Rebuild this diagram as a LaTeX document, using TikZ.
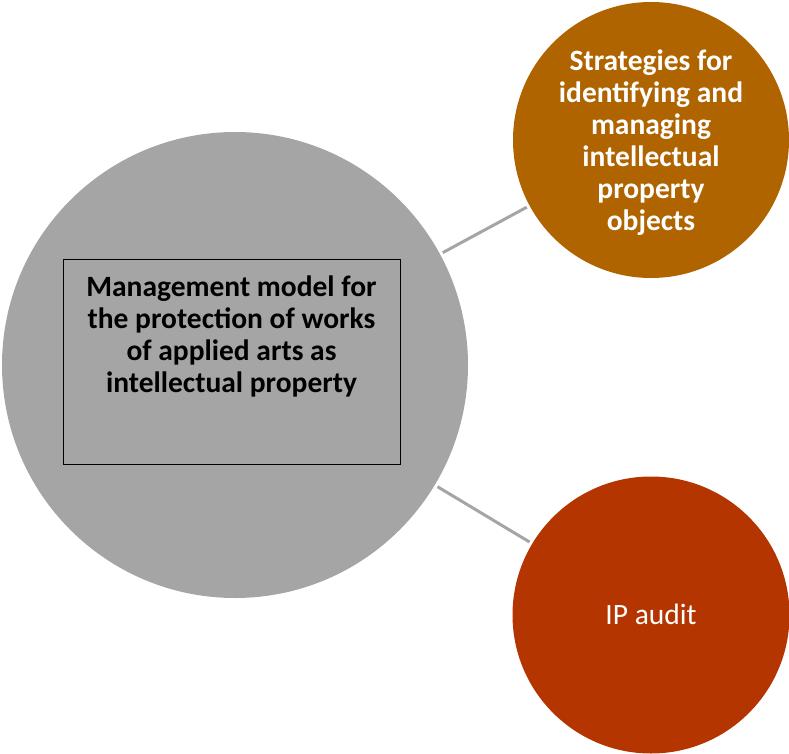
\documentclass[tikz,border=0pt]{standalone}
\usepackage{fontspec}
\setmainfont{Carlito}
\definecolor{biggray}{RGB}{165,165,165}
\definecolor{ochre}{RGB}{175,100,0}
\definecolor{rust}{RGB}{180,53,0}
\definecolor{linkgray}{RGB}{165,165,165}
\begin{document}
\begin{tikzpicture}[x=1pt,y=-1pt,
  disc/.style={circle,inner sep=0pt,draw=none},
  label/.style={font=\fontsize{29.5}{32}\selectfont,align=center,text=white},
  link/.style={draw=linkgray,line width=3pt,shorten <=3pt,shorten >=3pt}]
\useasboundingbox (0,0) rectangle (789,754);
\node[disc,fill=biggray,minimum size=466pt] (big) at (235,365) {};
\node[disc,fill=ochre,minimum size=276pt] (top) at (651,140) {};
\node[disc,fill=rust,minimum size=277pt] (bot) at (651,615) {};
\draw[link] (big) -- (top);
\draw[link] (big) -- (bot);
\node[draw=black,line width=0.8pt,minimum width=337pt,minimum height=205pt,inner sep=0pt] (box) at (231.5,361.5) {};
\node[font=\bfseries\fontsize{29.5}{32}\selectfont,align=center,text=black] (main) at (231.5,336) {Management model for\\the protection of works\\of applied arts as\\intellectual property};
\node[label,font=\bfseries\fontsize{29.5}{32}\selectfont] (toptext) at (651,143) {Strategies for\\identifying and\\managing\\intellectual\\property\\objects};
\node[label] (bottext) at (651,614) {IP audit};
\end{tikzpicture}
\end{document}
